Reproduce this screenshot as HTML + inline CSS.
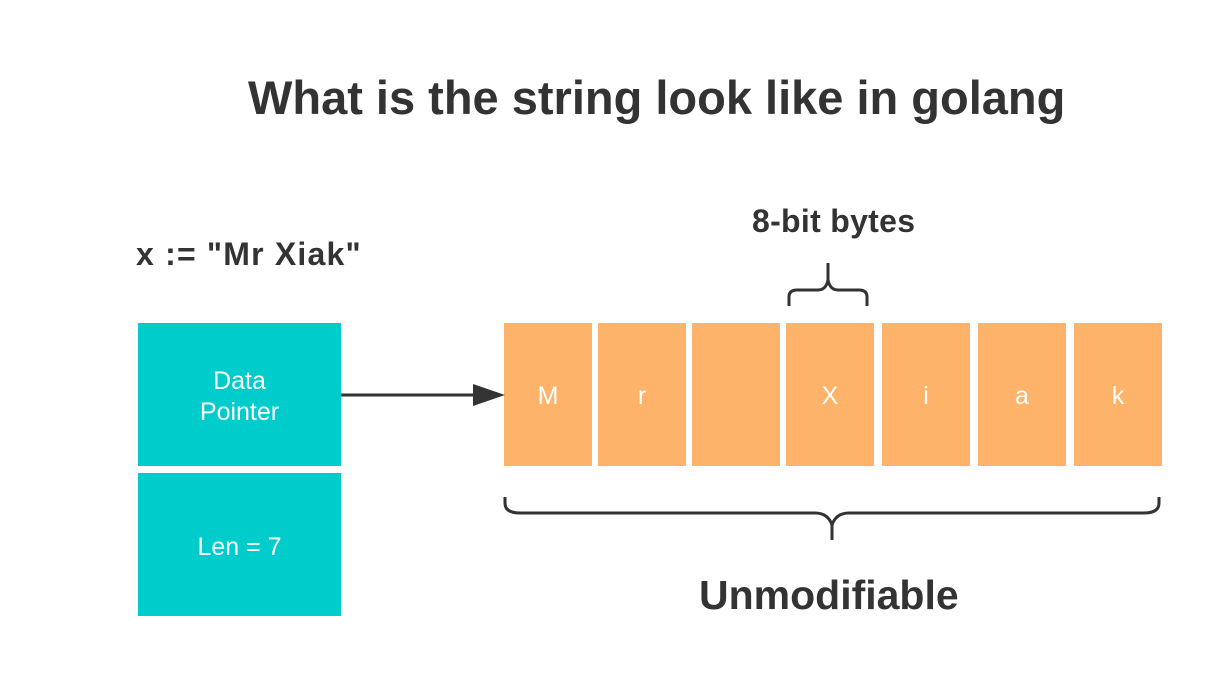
<!DOCTYPE html>
<html><head><meta charset="utf-8"><style>
html,body{margin:0;padding:0;background:#fff;}
body{width:1210px;height:688px;position:relative;overflow:hidden;font-family:"Liberation Sans",sans-serif;}
.t{position:absolute;color:#333;font-weight:bold;white-space:nowrap;}
.b{position:absolute;background:#FDB36A;color:#fff;font-size:25px;display:flex;align-items:center;justify-content:center;top:323px;height:143px;width:88px;padding-top:4px;box-sizing:border-box;}
.c{position:absolute;background:#00CCCC;color:#fff;font-size:25px;display:flex;align-items:center;justify-content:center;text-align:center;left:138px;width:203px;height:143px;line-height:31px;padding-top:5px;box-sizing:border-box;}
</style></head><body>
<div class="t" style="left:248px;top:70px;font-size:47px;">What is the string look like in golang</div>
<div class="t" style="left:136px;top:236px;font-size:32px;letter-spacing:1.2px;">x := "Mr Xiak"</div>
<div class="t" style="left:752px;top:203px;font-size:32px;letter-spacing:0.3px;">8-bit bytes</div>
<div class="t" style="left:699px;top:572px;font-size:41px;">Unmodifiable</div>
<div class="c" style="top:323px;">Data<br>Pointer</div>
<div class="c" style="top:473px;">Len = 7</div>
<div class="b" style="left:504px">M</div>
<div class="b" style="left:598px">r</div>
<div class="b" style="left:692px"></div>
<div class="b" style="left:786px">X</div>
<div class="b" style="left:882px">i</div>
<div class="b" style="left:978px">a</div>
<div class="b" style="left:1074px">k</div>
<svg width="1210" height="688" style="position:absolute;left:0;top:0">
<line x1="341" y1="395" x2="476" y2="395" stroke="#333" stroke-width="3"/>
<polygon points="473,384 505,395 473,406" fill="#333"/>
<path d="M789,306 V297 Q789,290 797,290 H818 Q826,290 828,280 V263 M828,280 Q830,290 838,290 H859 Q867,290 867,297 V306" fill="none" stroke="#333" stroke-width="3"/>
<path d="M505,497 V503 Q505,513 520,513 H815 Q828,513 832,525 V540 M832,525 Q836,513 849,513 H1144 Q1159,513 1159,503 V497" fill="none" stroke="#333" stroke-width="3"/>
</svg>
</body></html>
